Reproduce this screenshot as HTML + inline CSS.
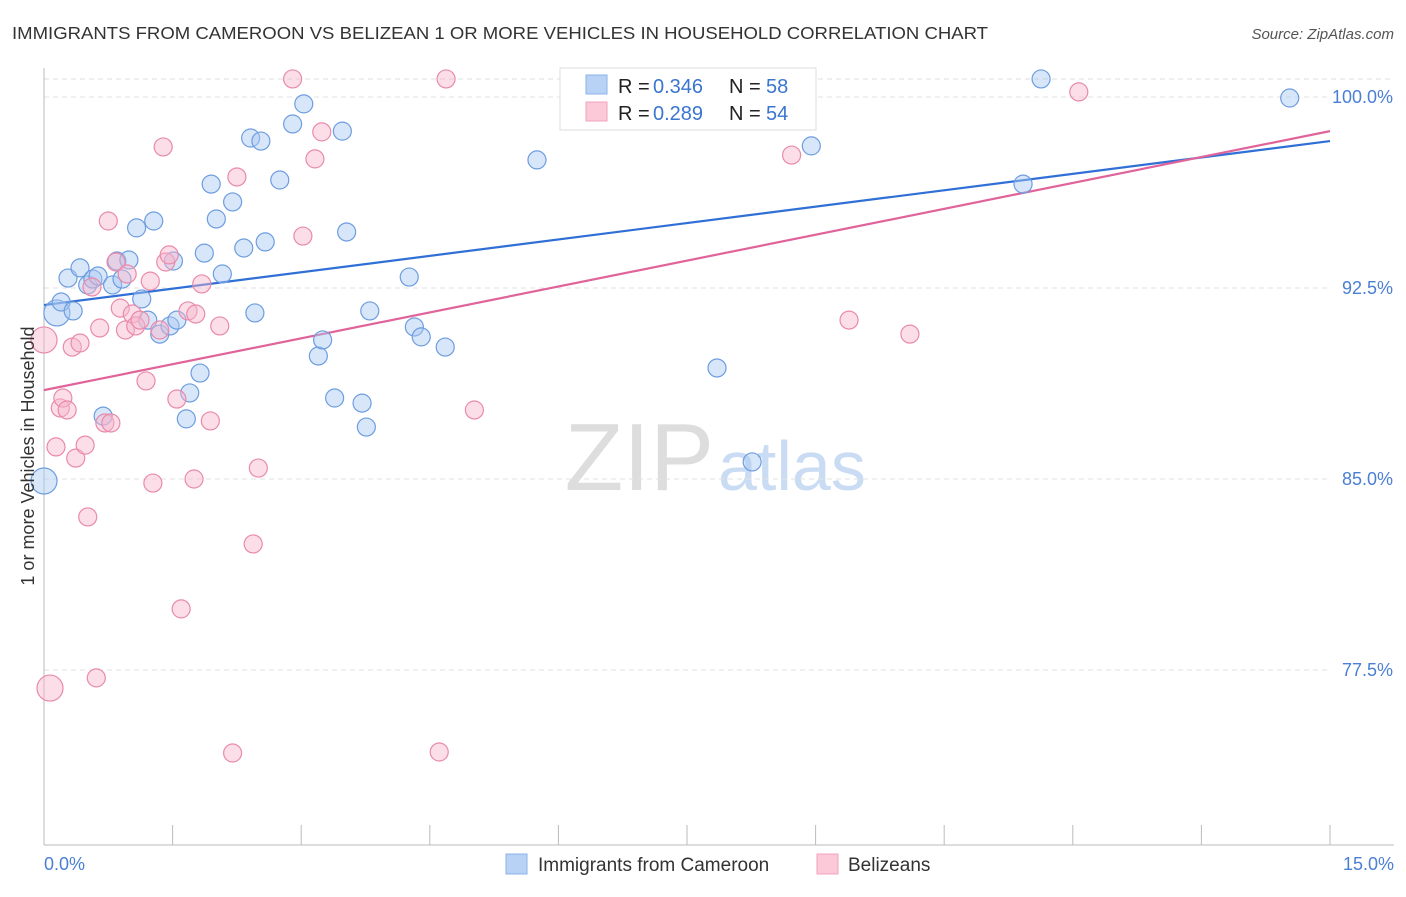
<!DOCTYPE html>
<html><head><meta charset="utf-8"><style>
body{margin:0;background:#fff;font-family:"Liberation Sans",sans-serif;}
svg text{font-family:"Liberation Sans",sans-serif;}
</style></head><body>
<svg id="chart" width="1406" height="892" xmlns="http://www.w3.org/2000/svg">
<text x="12" y="39" font-size="17.5" fill="#333" textLength="976" lengthAdjust="spacingAndGlyphs">IMMIGRANTS FROM CAMEROON VS BELIZEAN 1 OR MORE VEHICLES IN HOUSEHOLD CORRELATION CHART</text>
<text x="1394" y="39" font-size="15" fill="#555" font-style="italic" text-anchor="end">Source: ZipAtlas.com</text>
<text x="714" y="490" font-size="96" fill="#ddd" text-anchor="end" font-family="Liberation Serif">ZIP</text>
<text x="718" y="490" font-size="70" fill="#c9dcf3">atlas</text>
<g id="grid"></g><g id="axes"></g><g id="lines"></g><g id="pts"></g>
<text transform="translate(34,456) rotate(-90)" font-size="18" fill="#333" text-anchor="middle">1 or more Vehicles in Household</text>
<text x="44" y="870" font-size="18" fill="#4a7fd4">0.0%</text>
<text x="1394" y="870" font-size="18" fill="#4a7fd4" text-anchor="end">15.0%</text>
<g>
<rect x="560" y="68" width="256" height="62" fill="#fff" stroke="#ddd"/>
<rect x="586" y="75" width="21" height="19" fill="#b8d2f5" stroke="#8db3e8"/>
<rect x="586" y="102" width="21" height="19" fill="#fbc9d8" stroke="#f0a3bc"/>
<text x="618" y="93" font-size="20" fill="#222">R = </text>
<text x="653" y="93" font-size="20" fill="#3a75d0">0.346</text>
<text x="729" y="93" font-size="20" fill="#222">N = </text>
<text x="766" y="93" font-size="20" fill="#3a75d0">58</text>
<text x="618" y="120" font-size="20" fill="#222">R = </text>
<text x="653" y="120" font-size="20" fill="#3a75d0">0.289</text>
<text x="729" y="120" font-size="20" fill="#222">N = </text>
<text x="766" y="120" font-size="20" fill="#3a75d0">54</text>
</g>
<g>
<rect x="506" y="854" width="21" height="20" fill="#b8d2f5" stroke="#8db3e8"/>
<text x="538" y="871" font-size="19" fill="#333">Immigrants from Cameroon</text>
<rect x="817" y="854" width="21" height="20" fill="#fbc9d8" stroke="#f0a3bc"/>
<text x="848" y="871" font-size="19" fill="#333">Belizeans</text>
</g>
</svg>
<script>
const yTicks=[100,92.5,85,77.5];
const yTickLabels=["100.0%","92.5%","85.0%","77.5%"];
const xTicks=[0,1.5,3,4.5,6,7.5,9,10.5,12,13.5,15];
const blueX=[0.15,0.20,0.28,0.34,0.42,0.51,0.57,0.63,0.69,0.80,0.85,0.91,0.99,1.08,1.14,1.21,1.28,1.35,1.47,1.51,1.55,1.66,1.70,1.82,1.87,1.95,2.01,2.08,2.20,2.33,2.41,2.46,2.53,2.58,2.75,2.90,3.03,3.20,3.25,3.39,3.48,3.53,3.71,3.76,3.80,4.26,4.32,4.40,4.68,5.75,7.85,8.26,8.95,11.42,11.63,14.53,0];
const blueY=[91.52,91.95,92.89,91.60,93.29,92.62,92.85,92.97,87.47,92.62,93.56,92.85,93.60,94.86,92.07,91.24,95.13,90.69,91.01,93.56,91.24,87.36,88.38,89.16,93.87,96.58,95.21,93.05,95.88,94.07,98.39,91.52,98.27,94.31,96.74,98.94,99.73,89.83,90.46,88.18,98.66,94.70,87.98,87.04,91.60,92.93,90.97,90.58,90.18,97.53,89.36,85.67,98.08,96.58,100.71,99.96,84.92];
const blueBig=[0,56];
const pinkX=[0,0.07,0.14,0.19,0.22,0.27,0.33,0.37,0.42,0.48,0.51,0.56,0.61,0.65,0.71,0.75,0.78,0.84,0.89,0.95,0.97,1.03,1.07,1.12,1.19,1.24,1.27,1.35,1.39,1.42,1.46,1.55,1.60,1.68,1.75,1.77,1.84,1.94,2.05,2.20,2.25,2.44,2.50,2.90,3.02,3.16,3.24,4.69,4.61,5.02,8.72,9.39,10.10,12.07];
const pinkY=[90.46,76.79,86.26,87.79,88.18,87.71,90.18,85.82,90.34,86.33,83.51,92.54,77.19,90.93,87.20,95.13,87.20,93.52,91.71,90.85,93.05,91.48,91.01,91.24,88.85,92.77,84.84,90.85,98.04,93.52,93.80,88.14,79.90,91.60,85.0,91.48,92.66,87.28,91.01,74.24,96.86,82.45,85.43,100.71,94.54,97.57,98.63,100.71,74.28,87.71,97.72,91.24,90.69,100.20];
const pinkBig=[0,1];
const blueTrend=[91.83,98.27];
const pinkTrend=[88.49,98.66];
const X=v=>44+v/15*1286, Y=v=>97+(100-v)/7.5*191;
const NS="http://www.w3.org/2000/svg";
function mk(p,t,a){const e=document.createElementNS(NS,t);for(const k in a)e.setAttribute(k,a[k]);document.getElementById(p).appendChild(e);return e;}
let g=mk('grid','line',{x1:44,x2:1394,y1:79,y2:79,stroke:'#ddd','stroke-dasharray':'5,4'});


yTicks.forEach((t,i)=>{
 const l=mk('grid','line',{x1:44,x2:1330,y1:Y(t),y2:Y(t),stroke:'#e2e2e2','stroke-dasharray':'5,4'});
 
 
 const tx=mk('grid','text',{x:1393,y:Y(t)+6,'font-size':18,fill:'#4a7fd4','text-anchor':'end'});
 tx.textContent=yTickLabels[i];
 
 
});
let a=mk('axes','line',{x1:44,x2:44,y1:68,y2:845,stroke:'#bbb'});


a=mk('axes','line',{x1:44,x2:1394,y1:845,y2:845,stroke:'#bbb'});


xTicks.forEach(t=>{const l=mk('axes','line',{x1:X(t),x2:X(t),y1:825,y2:845,stroke:'#bbb'});
 
 });
function pts(xs,ys,big,fill,stroke,name){xs.forEach((x,i)=>{
 const c=mk('pts','circle',{cx:X(x),cy:Y(ys[i]),r:big.includes(i)?13:9,fill:fill,'fill-opacity':0.45,stroke:stroke,'stroke-width':1.2});
 
 });}
pts(blueX,blueY,blueBig,'#a9c8f2','#6d9de0','cameroon-point');
pts(pinkX,pinkY,pinkBig,'#f7b6cb','#e98aab','belizean-point');
let t=mk('lines','line',{x1:X(0),y1:Y(blueTrend[0]),x2:X(15),y2:Y(blueTrend[1]),stroke:'#2f6fd6','stroke-width':2.2});


t=mk('lines','line',{x1:X(0),y1:Y(pinkTrend[0]),x2:X(15),y2:Y(pinkTrend[1]),stroke:'#e0649a','stroke-width':2.2});


</script>
</body></html>
